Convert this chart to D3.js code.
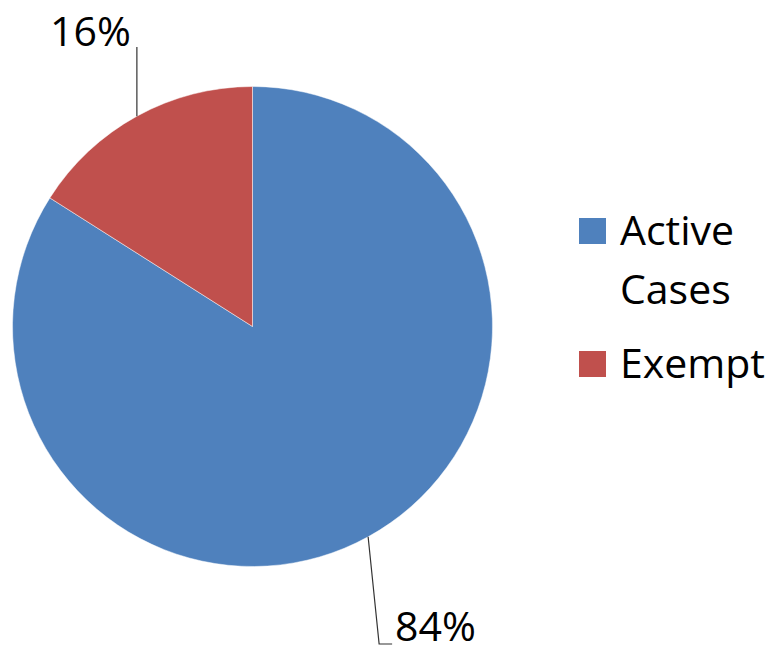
<!DOCTYPE html>
<html lang="en">
<head>
    <meta charset="UTF-8">
    <title>Active Cases vs Exempt</title>
    <script src="https://d3js.org/d3.v7.min.js"></script>
    <style>
        body { margin: 0; background: #fff; }
        text { font-family: "Open Sans", "Liberation Sans", sans-serif; fill: #000; }
    </style>
</head>
<body>
<svg></svg>
<script>

    var width = 773;
    var height = 647;

    // chart data
    var categories = ["Active Cases", "Exempt"];
    var values = [84, 16];
    var colors = ["#4F81BD", "#C0504D"];
    var legendLines = [["Active", "Cases"], ["Exempt"]];

    var svg = d3.select("svg").attr("width", width).attr("height", height);

    var cx = 252.5, cy = 326.5, radius = 240;

    var pie = d3.pie().sort(null).value(function (d) { return d; });
    var arc = d3.arc().innerRadius(0).outerRadius(radius);

    // first slice starts at 12 o'clock, runs clockwise
    var arcs = pie(values);

    var g = svg.append("g").attr("transform", "translate(" + cx + "," + cy + ")");

    g.selectAll("path")
        .data(arcs)
        .enter()
        .append("path")
        .attr("d", arc)
        .style("fill", function (d, i) { return colors[i]; })
        .style("stroke", "#ffffff")
        .style("stroke-opacity", 0.6)
        .style("stroke-width", 0.8);

    // leader lines + labels
    function edgePoint(a) {
        return [radius * Math.sin(a), -radius * Math.cos(a)];
    }

    // 16% (Exempt) - vertical line up from slice edge
    var exempt = arcs[1];
    var aE = exempt.startAngle + (exempt.endAngle - exempt.startAngle) * 0.5;
    var pE = edgePoint(aE);
    g.append("polyline")
        .attr("points", [pE, [pE[0], 47 - cy]].map(function (p) { return p.join(","); }).join(" "))
        .style("fill", "none").style("stroke", "#333").style("stroke-width", 1.2);
    g.append("text")
        .attr("x", pE[0] - 6)
        .attr("y", 47 - cy - 1)
        .attr("text-anchor", "end")
        .style("font-size", "41px")
        .text(values[1] + "%");

    // 84% (Active Cases) - line down to label, then short horizontal tick
    var active = arcs[0];
    var aA = active.startAngle + (active.endAngle - active.startAngle) * 0.5;
    var pA = edgePoint(aA);
    var bottomY = 644 - cy;
    g.append("polyline")
        .attr("points", [pA, [pA[0] + 11, bottomY], [pA[0] + 24, bottomY]].map(function (p) { return p.join(","); }).join(" "))
        .style("fill", "none").style("stroke", "#333").style("stroke-width", 1.2);
    g.append("text")
        .attr("x", pA[0] + 27)
        .attr("y", bottomY - 3)
        .style("font-size", "41px")
        .text(values[0] + "%");

    // legend
    var legendY = d3.scaleOrdinal().domain(categories).range([218, 351]);
    var legend = svg.append("g");

    var item = legend.selectAll("g")
        .data(categories)
        .enter()
        .append("g")
        .attr("transform", function (d) { return "translate(579," + legendY(d) + ")"; });

    item.append("rect")
        .attr("width", 27)
        .attr("height", 26)
        .style("fill", function (d, i) { return colors[i]; });

    item.each(function (d, i) {
        var t = d3.select(this).append("text")
            .attr("x", 41)
            .attr("y", 27)
            .style("font-size", "41px");
        legendLines[i].forEach(function (line, j) {
            t.append("tspan").attr("x", 41).attr("dy", j === 0 ? 0 : 59).text(line);
        });
    });
</script>
</body>
</html>
